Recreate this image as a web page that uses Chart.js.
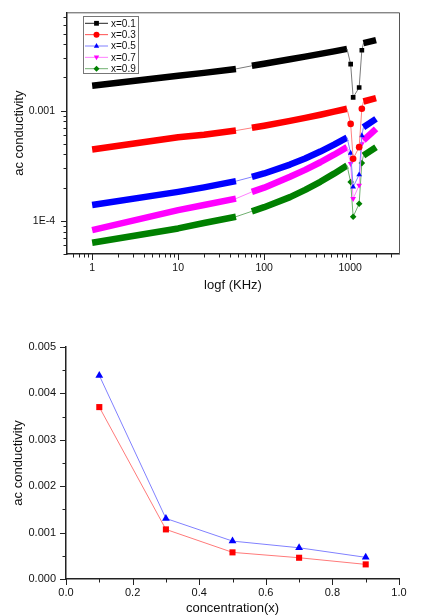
<!DOCTYPE html>
<html lang="en">
<head>
<meta charset="UTF-8">
<title>ac conductivity</title>
<script src="https://cdn.jsdelivr.net/npm/chart.js"></script>
<style>
  html, body { margin: 0; padding: 0; background: #fff; }
  body { width: 430px; height: 616px; position: relative; overflow: hidden; }
  .panel { position: absolute; left: 0; width: 430px; }
</style>
</head>
<body>
<div class="panel" style="top:0;height:298px"><canvas id="freqChart" width="430" height="298"></canvas></div>
<div class="panel" style="top:298px;height:318px"><canvas id="concChart" width="430" height="318"></canvas></div>

<script>
// --- top panel: ac conductivity vs frequency (KHz) ---
const freq = [1, 10, 20, 47, 72, 100, 200, 300, 450, 650, 920, 1014, 1084, 1273, 1368, 1428, 2000];
const sigX01 = [1.68e-3, 2.07e-3, 2.20e-3, 2.39e-3, 2.55e-3, 2.66e-3, 2.92e-3, 3.09e-3, 3.27e-3, 3.45e-3, 3.63e-3, 2.64e-3, 1.32e-3, 1.62e-3, 3.53e-3, 4.09e-3, 4.36e-3];
const sigX03 = [4.44e-4, 5.74e-4, 6.05e-4, 6.59e-4, 6.98e-4, 7.29e-4, 8.07e-4, 8.59e-4, 9.18e-4, 9.79e-4, 1.04e-3, 7.58e-4, 3.66e-4, 4.66e-4, 1.04e-3, 1.21e-3, 1.30e-3];
const sigX05 = [1.39e-4, 1.83e-4, 2.01e-4, 2.29e-4, 2.50e-4, 2.69e-4, 3.24e-4, 3.68e-4, 4.25e-4, 4.92e-4, 5.70e-4, 4.11e-4, 2.03e-4, 2.62e-4, 5.94e-4, 7.06e-4, 8.41e-4];
const sigX07 = [8.24e-5, 1.25e-4, 1.39e-4, 1.59e-4, 1.83e-4, 2.00e-4, 2.51e-4, 2.90e-4, 3.40e-4, 3.98e-4, 4.66e-4, 3.30e-4, 1.59e-4, 2.10e-4, 5.00e-4, 5.36e-4, 6.84e-4];
const sigX09 = [6.33e-5, 8.53e-5, 9.55e-5, 1.09e-4, 1.22e-4, 1.33e-4, 1.64e-4, 1.91e-4, 2.26e-4, 2.68e-4, 3.18e-4, 2.25e-4, 1.09e-4, 1.43e-4, 3.34e-4, 3.92e-4, 4.66e-4];
// frequency stretches that were sampled densely (drawn as a solid band)
const bandRanges = [[1, 47], [72, 920], [1428, 2000]];

// --- bottom panel: ac conductivity vs concentration ---
const conc = [0.1, 0.3, 0.5, 0.7, 0.9];
const sig100k = [];
const sig1000k = [3.705e-3, 1.069e-3, 0.574e-3, 0.458e-3, 0.315e-3];
const sig2000k = [4.387e-3, 1.305e-3, 0.817e-3, 0.673e-3, 0.467e-3];

const FONT = "'Liberation Sans', Arial, Helvetica, sans-serif";
Chart.defaults.font.family = FONT;
Chart.defaults.color = '#111';

const inBand = f => bandRanges.some(([a, b]) => f >= a && f <= b);
const sameBand = (f0, f1) => bandRanges.some(([a, b]) => f0 >= a && f0 <= b && f1 >= a && f1 <= b);

function marker(ctx, style, x, y, r) {
  ctx.beginPath();
  if (style === 'rect') {
    ctx.rect(x - r * 0.8, y - r * 0.8, r * 1.6, r * 1.6);
  } else if (style === 'circle') {
    ctx.arc(x, y, r, 0, Math.PI * 2);
  } else if (style === 'triangle') {
    ctx.moveTo(x, y - r); ctx.lineTo(x + r * 0.9, y + r * 0.6); ctx.lineTo(x - r * 0.9, y + r * 0.6); ctx.closePath();
  } else if (style === 'triangleDown') {
    ctx.moveTo(x, y + r); ctx.lineTo(x + r * 0.9, y - r * 0.6); ctx.lineTo(x - r * 0.9, y - r * 0.6); ctx.closePath();
  } else if (style === 'diamond') {
    ctx.moveTo(x, y - r); ctx.lineTo(x + r, y); ctx.lineTo(x, y + r); ctx.lineTo(x - r, y); ctx.closePath();
  }
  ctx.fill();
}

// outward tick marks, long on major, short on minor
const tickMarks = {
  id: 'tickMarks',
  afterDraw(chart, args, opts) {
    const ctx = chart.ctx;
    ctx.save();
    ctx.strokeStyle = '#222';
    ctx.lineWidth = 1;
    for (const id of ['x', 'y']) {
      const sc = chart.scales[id];
      sc.ticks.forEach(t => {
        const kind = opts.kind(id, t.value);
        if (!kind) return;
        const len = kind === 'major' ? 6 : 3.5;
        const p = Math.round(sc.getPixelForValue(t.value)) + 0.5;
        ctx.beginPath();
        if (id === 'x') { ctx.moveTo(p, sc.top); ctx.lineTo(p, sc.top + len); }
        else { ctx.moveTo(sc.right, p); ctx.lineTo(sc.right - len, p); }
        ctx.stroke();
      });
    }
    if (opts.frame) {
      const a = chart.chartArea;
      ctx.strokeStyle = '#555';
      ctx.beginPath();
      ctx.moveTo(a.left, a.top + 0.5); ctx.lineTo(a.right + 0.5, a.top + 0.5); ctx.lineTo(a.right + 0.5, a.bottom);
      ctx.stroke();
    }
    ctx.restore();
  }
};

// line-marker-line legend
const boxLegend = {
  id: 'boxLegend',
  afterDatasetsDraw(chart, args, o) {
    const ctx = chart.ctx;
    ctx.save();
    ctx.fillStyle = '#fff';
    ctx.fillRect(o.x, o.y, o.w, o.h);
    ctx.strokeStyle = '#777';
    ctx.lineWidth = 1;
    ctx.strokeRect(o.x + 0.5, o.y + 0.5, o.w, o.h);
    ctx.font = o.fontSize + 'px ' + FONT;
    ctx.textBaseline = 'middle';
    o.items.forEach((it, i) => {
      const y = o.firstY + i * o.step;
      ctx.strokeStyle = it.line;
      ctx.beginPath();
      ctx.moveTo(o.lineX0, y); ctx.lineTo(o.lineX1, y);
      ctx.stroke();
      ctx.fillStyle = it.color;
      marker(ctx, it.style, (o.lineX0 + o.lineX1) / 2, y, o.r);
      ctx.fillStyle = '#111';
      ctx.fillText(it.label, o.textX, y + 0.5);
    });
    ctx.restore();
  }
};

const isPow10 = v => Math.abs(Math.log10(v) - Math.round(Math.log10(v))) < 1e-6;
function logKind(v) {
  const e = Math.floor(Math.log10(v) + 1e-9);
  const m = v / Math.pow(10, e);
  if (Math.abs(m - Math.round(m)) > 1e-6) return null;
  return Math.round(m) === 1 ? 'major' : 'minor';
}

const topSeries = [
  { label: 'x=0.1', data: sigX01, color: '#000000', thin: '#7a7a7a', style: 'rect', rot: 0, leg: 'rect', legLine: '#222' },
  { label: 'x=0.3', data: sigX03, color: '#ff0000', thin: '#ff8080', style: 'circle', rot: 0, leg: 'circle', legLine: '#ff5050' },
  { label: 'x=0.5', data: sigX05, color: '#0000ff', thin: '#8080ff', style: 'triangle', rot: 0, leg: 'triangle', legLine: '#8080ff' },
  { label: 'x=0.7', data: sigX07, color: '#ff00ff', thin: '#ff80ff', style: 'triangle', rot: 180, leg: 'triangleDown', legLine: '#ff80ff' },
  { label: 'x=0.9', data: sigX09, color: '#008000', thin: '#70b070', style: 'rectRot', rot: 0, leg: 'diamond', legLine: '#70b070' }
];

new Chart(document.getElementById('freqChart'), {
  type: 'line',
  data: {
    datasets: topSeries.map(s => ({
      label: s.label,
      data: freq.map((f, i) => ({ x: f, y: s.data[i] })),
      borderColor: s.color,
      backgroundColor: s.color,
      borderWidth: 1,
      borderJoinStyle: 'round',
      pointStyle: s.style,
      pointRotation: s.rot,
      pointRadius: c => inBand(freq[c.dataIndex]) ? 0 : 3.3,
      pointBorderWidth: 0,
      segment: {
        borderWidth: c => sameBand(c.p0.parsed.x, c.p1.parsed.x) ? 6.5 : 1,
        borderColor: c => sameBand(c.p0.parsed.x, c.p1.parsed.x) ? s.color : s.thin
      }
    }))
  },
  options: {
    responsive: false,
    animation: false,
    events: [],
    layout: { autoPadding: false, padding: { left: 0, top: 11, right: 31, bottom: 0 } },
    plugins: {
      legend: { display: false },
      tooltip: { enabled: false },
      tickMarks: { kind: (id, v) => logKind(v), frame: true },
      boxLegend: {
        x: 83, y: 16, w: 55, h: 57, fontSize: 10, r: 3,
        firstY: 23.3, step: 11.35, lineX0: 85, lineX1: 108, textX: 111,
        items: topSeries.map(s => ({ label: s.label, color: s.color, line: s.legLine, style: s.leg }))
      }
    },
    scales: {
      x: {
        type: 'logarithmic', min: 0.51, max: 3700,
        afterFit: sc => { sc.height = 44; },
        grid: { drawOnChartArea: false, tickColor: 'transparent', tickLength: 6 },
        border: { color: '#222', width: 1.5 },
        ticks: {
          autoSkip: false, maxRotation: 0, padding: 2,
          font: { size: 10.5 }, color: '#111',
          callback: v => isPow10(v) ? String(Math.round(v)) : ''
        },
        title: { display: true, text: 'logf (KHz)', font: { size: 13 }, color: '#111', padding: { top: 0, bottom: 5 } }
      },
      y: {
        type: 'logarithmic', min: 5.0e-5, max: 7.8e-3,
        afterFit: sc => { sc.width = 67; },
        grid: { drawOnChartArea: false, tickColor: 'transparent', tickLength: 6 },
        border: { color: '#222', width: 1.5 },
        ticks: {
          autoSkip: false, padding: 6,
          font: { size: 10.5 }, color: '#111',
          callback: v => {
            if (!isPow10(v)) return '';
            const e = Math.round(Math.log10(v));
            return e >= -3 ? v.toFixed(-e) : '1E' + e;
          }
        },
        title: { display: true, text: 'ac conductivity', font: { size: 13 }, color: '#111', padding: { top: 12, bottom: 0 } }
      }
    }
  },
  plugins: [tickMarks, boxLegend]
});

const botSeries = [
  { label: '100 KHz', data: sig100k, color: '#000000', thin: '#a0a0a0', style: 'rect', leg: 'rect' },
  { label: '1000KHz', data: sig1000k, color: '#ff0000', thin: '#ff7a7a', style: 'rect', leg: 'circle' },
  { label: '2000KHz', data: sig2000k, color: '#0000ff', thin: '#8080ff', style: 'triangle', leg: 'triangle' }
];

new Chart(document.getElementById('concChart'), {
  type: 'line',
  data: {
    datasets: botSeries.map(s => ({
      label: s.label,
      data: s.data.map((v, i) => ({ x: conc[i], y: v })),
      borderColor: s.thin,
      borderWidth: 1,
      pointStyle: s.style,
      pointRadius: s.style === 'triangle' ? 4.5 : 4.3,
      pointBackgroundColor: s.color,
      pointBorderWidth: 0
    }))
  },
  options: {
    responsive: false,
    animation: false,
    events: [],
    layout: { autoPadding: false, padding: { left: 0, top: 49, right: 31, bottom: 0 } },
    plugins: {
      legend: { display: false },
      tooltip: { enabled: false },
      tickMarks: {
        kind: (id, v) => {
          const k = id === 'x' ? Math.round(v * 10) : Math.round(v * 2000);
          return k % 2 === 0 ? 'major' : 'minor';
        },
        frame: false
      },
      boxLegend: {
        x: 341, y: 321, w: 100, h: 46, fontSize: 14, r: 3.6,
        firstY: 329, step: 14.8, lineX0: 343, lineX1: 373, textX: 378,
        items: botSeries.map(s => ({ label: s.label, color: s.color, line: s.thin, style: s.leg }))
      }
    },
    scales: {
      x: {
        type: 'linear', min: 0, max: 1,
        afterFit: sc => { sc.height = 37; },
        grid: { drawOnChartArea: false, tickColor: 'transparent', tickLength: 6 },
        border: { color: '#222', width: 1.5 },
        ticks: {
          stepSize: 0.1, autoSkip: false, maxRotation: 0, padding: 1,
          font: { size: 11 }, color: '#111',
          callback: v => Math.round(v * 10) % 2 === 0 ? v.toFixed(1) : ''
        },
        title: { display: true, text: 'concentration(x)', font: { size: 13 }, color: '#111', padding: { top: 0, bottom: 0 } }
      },
      y: {
        type: 'linear', min: 0, max: 0.005,
        afterFit: sc => { sc.width = 66; },
        grid: { drawOnChartArea: false, tickColor: 'transparent', tickLength: 6 },
        border: { color: '#222', width: 1.5 },
        ticks: {
          stepSize: 0.0005, autoSkip: false, padding: 4,
          font: { size: 11 }, color: '#111',
          callback: v => Math.round(v * 2000) % 2 === 0 ? v.toFixed(3) : ''
        },
        title: { display: true, text: 'ac conductivity', font: { size: 13 }, color: '#111', padding: { top: 10.5, bottom: 0 } }
      }
    }
  },
  plugins: [tickMarks, boxLegend]
});
</script>
</body>
</html>
